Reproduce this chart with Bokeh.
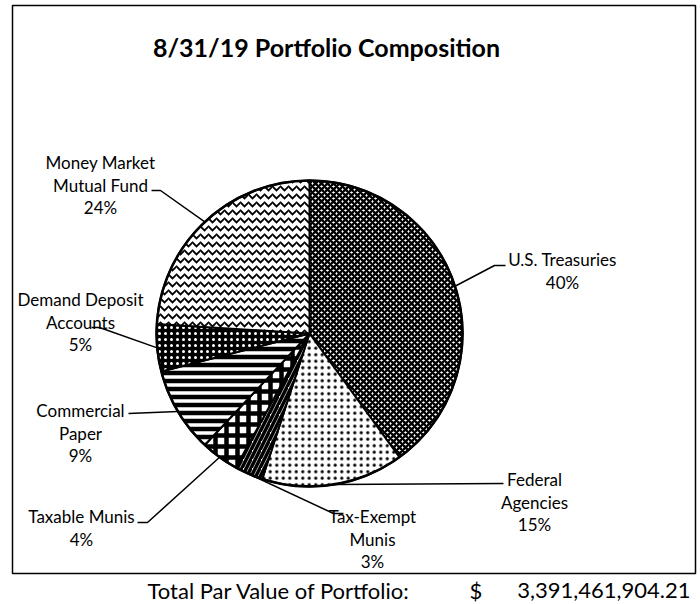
import math
from bokeh.plotting import figure
from bokeh.models import Range1d
from bokeh.core.properties import value
from bokeh.embed import file_html
from bokeh.resources import INLINE

# ---------------- data ----------------
title = "8/31/19 Portfolio Composition"
categories = ["U.S. Treasuries", "Federal Agencies", "Tax-Exempt Munis", "Taxable Munis",
              "Commercial Paper", "Demand Deposit Accounts", "Money Market Mutual Fund"]
label_lines = [["U.S. Treasuries"], ["Federal", "Agencies"], ["Tax-Exempt", "Munis"],
               ["Taxable Munis"], ["Commercial", "Paper"], ["Demand Deposit", "Accounts"],
               ["Money Market", "Mutual Fund"]]
percentages = [40, 15, 3, 4, 9, 5, 24]
total_label = "Total Par Value of Portfolio:"
total_currency = "$"
total_value = 3391461904.21

# ---------------- layout / styles ----------------
W, H = 700, 604
FONT = "Lato"
CX, CY, R = 309, 333, 153          # pie centre / radius in screen pixels
LINE_H = 22.5

def Y(ys):                          # screen y -> data y
    return H - ys

label_pos = [(562, 259), (534, 479), (372, 516), (81, 516), (80, 410), (80, 299), (100, 162)]
leader_pts = [[(494, 265), (505, 265)],
              [(503, 483)],
              [(333, 513), (343, 513)],
              [(147, 522), (137, 522)],
              [(128, 413)],
              [(99, 327), (91, 327)],
              [(160, 190), (151, 190)]]

styles = [
    dict(fill_color="white", hatch_pattern="diagonal_cross", hatch_scale=6, hatch_weight=2.3, hatch_color="black"),
    dict(fill_color="white", hatch_pattern="dot", hatch_scale=6.5, hatch_weight=4, hatch_color="black"),
    dict(fill_color="white", hatch_pattern="right_diagonal_line", hatch_scale=9, hatch_weight=3.5, hatch_color="black"),
    dict(fill_color="white", hatch_pattern="cross", hatch_scale=11, hatch_weight=4.5, hatch_color="black"),
    dict(fill_color="white", hatch_pattern="horizontal_line", hatch_scale=8, hatch_weight=4.5, hatch_color="black"),
    dict(fill_color="black", hatch_pattern="dot", hatch_scale=6, hatch_weight=2.5, hatch_color="white"),
    dict(fill_color="white", hatch_pattern="horizontal_wave", hatch_scale=8, hatch_weight=1.8, hatch_color="black"),
]

p = figure(width=W, height=H, x_range=Range1d(0, W), y_range=Range1d(0, H),
           x_axis_type=None, y_axis_type=None, toolbar_location=None,
           output_backend="svg", min_border=0, background_fill_color="white")
p.outline_line_color = None
p.grid.visible = False

# frame
p.quad(left=[12], right=[695], bottom=[Y(573)], top=[Y(5)], fill_color=None,
       line_color="black", line_width=1.5)

# title
p.text(x=[326], y=[Y(46)], text=[title], text_font=value(FONT), text_font_style="bold",
       text_font_size="25px", text_align="center", text_baseline="middle", text_color="black")

# pie
total = sum(percentages)
cum = 0.0
mids = []
for i, v in enumerate(percentages):
    a0 = 90 - cum / total * 360
    cum += v
    a1 = 90 - cum / total * 360
    mids.append(math.radians((a0 + a1) / 2))
    p.wedge(x=[CX], y=[Y(CY)], radius=R, start_angle=math.radians(a0), end_angle=math.radians(a1),
            direction="clock", line_color="black", line_width=2, **styles[i])

p.circle(x=[CX], y=[Y(CY)], radius=R, fill_color=None, line_color="black", line_width=2.5)

# labels and leader lines
for i, v in enumerate(percentages):
    ax = CX + R * math.cos(mids[i])
    ay = CY - R * math.sin(mids[i])
    xs = [ax] + [pt[0] for pt in leader_pts[i]]
    ys = [Y(ay)] + [Y(pt[1]) for pt in leader_pts[i]]
    p.line(xs, ys, line_color="black", line_width=1.5)
    lx, ly = label_pos[i]
    lines = label_lines[i] + [f"{v}%"]
    p.text(x=[lx] * len(lines), y=[Y(ly + k * LINE_H) for k in range(len(lines))], text=lines,
           text_font=value(FONT), text_font_size="17px", text_align="center",
           text_baseline="middle", text_color="black")

# total par value line
for x, t, al in [(147, total_label, "left"), (469, total_currency, "left"),
                 (690, f"{total_value:,.2f}", "right")]:
    p.text(x=[x], y=[Y(590)], text=[t], text_font=value(FONT), text_font_size="22px",
           text_align=al, text_baseline="middle", text_color="black")

open("out.html", "w").write(file_html(p, INLINE))
